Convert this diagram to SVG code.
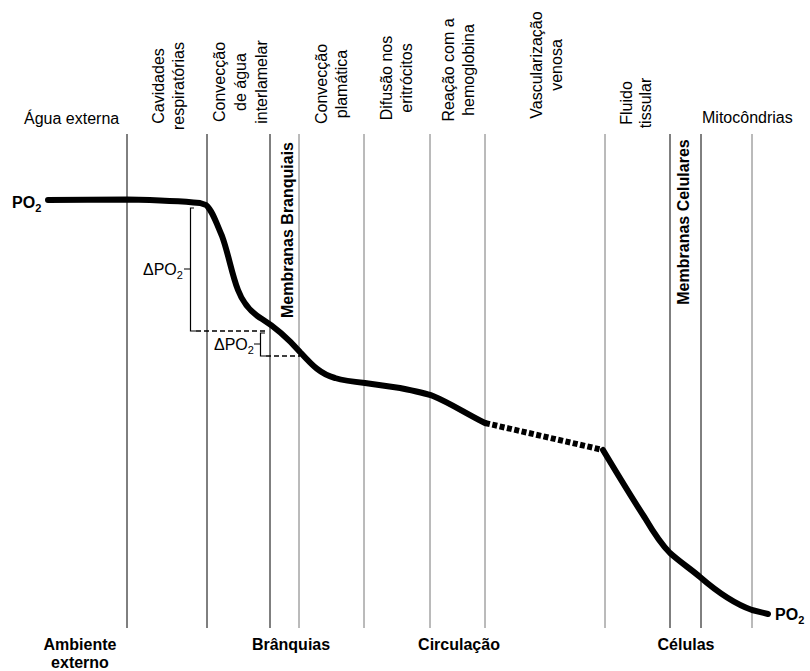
<svg xmlns="http://www.w3.org/2000/svg" width="810" height="671" viewBox="0 0 810 671">
<style>
text{font-family:"Liberation Sans",Arial,sans-serif;font-size:16px;fill:#000}
.b{font-weight:bold}
.sub{font-size:11px}
.vl{stroke:#000;stroke-width:1}
.vg{stroke:#777;stroke-width:1}
.curve{fill:none;stroke:#000;stroke-width:6;stroke-linecap:round;stroke-linejoin:round}
.br{fill:none;stroke:#000;stroke-width:1.2}
.dash{fill:none;stroke:#000;stroke-width:1.5;stroke-dasharray:5 3}
</style>
<rect width="810" height="671" fill="#fff"/>
<g id="grid">
<line class="vl" x1="127" y1="134" x2="127" y2="628"/>
<line class="vl" x1="207" y1="134" x2="207" y2="628"/>
<line class="vl" x1="270" y1="134" x2="270" y2="628"/>
<line class="vg" x1="299" y1="134" x2="299" y2="628"/>
<line class="vg" x1="364" y1="134" x2="364" y2="628"/>
<line class="vg" x1="430" y1="134" x2="430" y2="628"/>
<line class="vg" x1="485" y1="134" x2="485" y2="628"/>
<line class="vg" x1="605" y1="134" x2="605" y2="628"/>
<line class="vl" x1="670" y1="134" x2="670" y2="628"/>
<line class="vl" x1="701" y1="134" x2="701" y2="628"/>
<line class="vg" x1="752" y1="134" x2="752" y2="628"/>
</g>
<g id="top-labels">
<text id="agua-externa" x="24" y="124">Água externa</text>
<text id="cavidades" transform="translate(164,86) rotate(-90)" text-anchor="middle"><tspan x="0" y="0">Cavidades</tspan><tspan x="0" dy="20">respiratórias</tspan></text>
<text id="conveccao-agua" transform="translate(225,82) rotate(-90)" text-anchor="middle"><tspan x="0" y="0">Convecção</tspan><tspan x="0" dy="21">de água</tspan><tspan x="0" dy="21">interlamelar</tspan></text>
<text id="conveccao-plasma" transform="translate(327,84) rotate(-90)" text-anchor="middle"><tspan x="0" y="0">Convecção</tspan><tspan x="0" dy="20">plamática</tspan></text>
<text id="difusao" transform="translate(392,78) rotate(-90)" text-anchor="middle"><tspan x="0" y="0">Difusão nos</tspan><tspan x="0" dy="20">eritrócitos</tspan></text>
<text id="reacao" transform="translate(454,70) rotate(-90)" text-anchor="middle"><tspan x="0" y="0">Reação com a</tspan><tspan x="0" dy="20">hemoglobina</tspan></text>
<text id="vascularizacao" transform="translate(542,65) rotate(-90)" text-anchor="middle"><tspan x="0" y="0">Vascularização</tspan><tspan x="0" dy="20">venosa</tspan></text>
<text id="fluido" transform="translate(632,103) rotate(-90)" text-anchor="middle"><tspan x="0" y="0">Fluido</tspan><tspan x="0" dy="19">tissular</tspan></text>
<text id="mitocondrias" x="702" y="123">Mitocôndrias</text>
</g>
<g id="membranas">
<text id="membranas-branquiais" class="b" transform="translate(293,230) rotate(-90)" text-anchor="middle">Membranas Branquiais</text>
<text id="membranas-celulares" class="b" transform="translate(689,222) rotate(-90)" text-anchor="middle">Membranas Celulares</text>
</g>
<g id="po2-labels">
<text id="po2-left" class="b" x="12" y="208">PO<tspan class="sub" dy="4">2</tspan></text>
<text id="po2-right" class="b" x="775" y="620">PO<tspan class="sub" dy="4">2</tspan></text>
<text id="dpo2-1" x="143" y="275">ΔPO<tspan class="sub" dy="4">2</tspan></text>
<text id="dpo2-2" x="214" y="350">ΔPO<tspan class="sub" dy="4">2</tspan></text>
</g>
<g id="connectors">
<path class="curve" d="M48,200 L127,199.5 C150,200 180,201 200,203 L206,205 C212,210 216,222 222,236 C228,252 232,275 238,290 C243,303 250,312 262,319 C275,327 285,335 300,352 C312,365 320,374 335,378 C345,381 355,382 365,383 L400,388 C415,391 425,393 433,396 C450,403 465,413 485,423"/>
<path class="curve" style="stroke-linecap:butt;stroke-dasharray:5 2.5" d="M485,423 L603,450"/>
<path class="curve" d="M603,450 C612,465 630,495 645,518 C655,535 662,545 670,553 C680,562 692,570 700,577 C715,590 735,604 752,610 L768,614"/>
<path class="br" d="M194,208 H190.5 V331 H196 M190.5,269 H184"/>
<path class="dash" d="M196,331 H268"/>
<path class="br" d="M265,333 H260.5 V356 H266 M260.5,344 H254"/>
<path class="dash" d="M266,356 H300"/>
</g>
<g id="bottom-labels">
<text id="ambiente" class="b" x="80" y="650" text-anchor="middle"><tspan x="80" y="650">Ambiente</tspan><tspan x="80" dy="18">externo</tspan></text>
<text id="branquias" class="b" x="291" y="650" text-anchor="middle">Brânquias</text>
<text id="circulacao" class="b" x="459" y="650" text-anchor="middle">Circulação</text>
<text id="celulas" class="b" x="686" y="650" text-anchor="middle">Células</text>
</g>
</svg>
